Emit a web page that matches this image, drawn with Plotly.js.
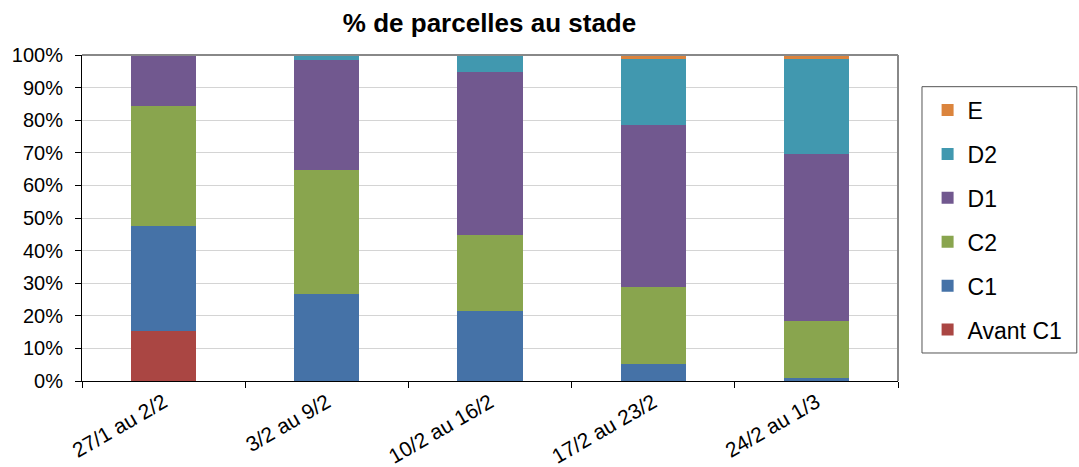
<!DOCTYPE html>
<html><head><meta charset="utf-8">
<script src="https://cdn.plot.ly/plotly-3.0.1.min.js"></script>
<style>html,body{margin:0;padding:0;background:#fff;}#chart{width:1079px;height:467px;}</style>
</head><body><div id="chart"></div>
<script>
const categories = ["27/1 au 2/2", "3/2 au 9/2", "10/2 au 16/2", "17/2 au 23/2", "24/2 au 1/3"];
const avantC1 = [15.2, 0, 0, 0, 0];
const c1 = [32.5, 26.8, 21.6, 5.2, 0.8];
const c2 = [36.8, 38.0, 23.3, 23.7, 17.5];
const d1 = [15.5, 33.8, 49.9, 49.6, 51.2];
const d2 = [0, 1.4, 5.2, 20.3, 29.3];
const e = [0, 0, 0, 1.2, 1.2];
const yTicks = [0,10,20,30,40,50,60,70,80,90,100];

const series = [
  {name: "Avant C1", y: avantC1, color: "#AA4643"},
  {name: "C1", y: c1, color: "#4572A7"},
  {name: "C2", y: c2, color: "#89A54E"},
  {name: "D1", y: d1, color: "#71588F"},
  {name: "D2", y: d2, color: "#4198AF"},
  {name: "E", y: e, color: "#DB843D"}
];
const traces = series.map((s, i) => ({
  type: "bar", name: s.name, x: categories, y: s.y,
  legendgroup: "g" + i,
  legendrank: 100 - i * 10,
  marker: {color: s.color, line: {width: 0}},
  hoverinfo: "name+y"
}));

const layout = {
  width: 1079, height: 467,
  margin: {l: 82, r: 180, t: 55, b: 86},
  paper_bgcolor: "#fff", plot_bgcolor: "#fff",
  barmode: "stack", bargap: 0.6,
  font: {family: "Liberation Sans, Arial, sans-serif", size: 20, color: "#000"},
  title: {text: "<b>% de parcelles au stade</b>", font: {size: 26, color: "#000"}, x: 0.4537, xanchor: "center", y: 0.95, yanchor: "middle"},
  xaxis: {
    tickangle: -30, showline: true, linecolor: "#000", linewidth: 1,
    ticks: "outside", ticklen: 6, tickcolor: "#000", tickson: "boundaries",
    showgrid: false, tickfont: {size: 21}, mirror: false
  },
  yaxis: {
    range: [0, 100], tickvals: yTicks, ticktext: yTicks.map(v => v + "%"),
    showline: true, linecolor: "#000", linewidth: 1,
    ticks: "outside", ticklen: 6, tickcolor: "#000", ticklabelstandoff: 8,
    showgrid: true, gridcolor: "#d4d4d4", gridwidth: 1,
    tickfont: {size: 20}, zeroline: false
  },
  shapes: [
    {type: "line", xref: "paper", yref: "paper", x0: 0, x1: 1, y0: 1, y1: 1, line: {color: "#888", width: 2}},
    {type: "line", xref: "paper", yref: "paper", x0: 1, x1: 1, y0: 0, y1: 1, line: {color: "#888", width: 2}},
    {type: "rect", xref: "paper", yref: "paper", x0: 1.0294, x1: 1.2191, y0: 0.0859, y1: 0.9028, line: {color: "#555", width: 1}, fillcolor: "rgba(0,0,0,0)", layer: "above"}
  ],
  legend: {
    x: 1.035, xanchor: "left", y: 0.897, yanchor: "top",
    traceorder: "grouped", tracegroupgap: 11,
    borderwidth: 0, bgcolor: "rgba(0,0,0,0)",
    font: {size: 23, color: "#000"}
  },
  showlegend: true
};
Plotly.newPlot("chart", traces, layout, {displayModeBar: false, staticPlot: true});
</script></body></html>
